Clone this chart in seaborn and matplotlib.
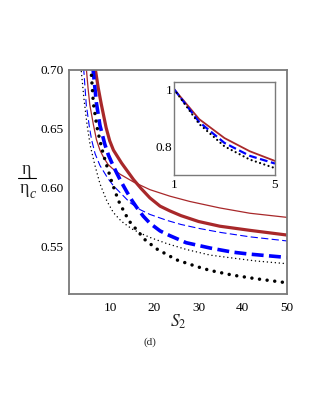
import matplotlib
matplotlib.use("Agg")
import matplotlib.pyplot as plt
import seaborn as sns
import pandas as pd
from matplotlib.lines import Line2D

# ---------------- data ----------------
# main panel: efficiency ratio eta/eta_c versus S2
s_red_thin = [4.6, 5.0, 5.4, 6.2, 6.9, 7.7, 8.5, 9.5, 10.5, 12.3, 15.3, 19.0, 23.5, 28.0, 34.8, 41.6, 50.0]
y_red_thin = [0.702, 0.685, 0.6707, 0.654, 0.641, 0.632, 0.626, 0.620, 0.6165, 0.6115, 0.605, 0.5985, 0.593, 0.5885, 0.583, 0.5785, 0.575]

s_red_thick = [6.6, 7.3, 8.0, 9.1, 9.9, 10.75, 12.6, 15.3, 17.0, 19.0, 21.3, 23.5, 26.0, 30.0, 34.8, 41.6, 50.0]
y_red_thick = [0.702, 0.685, 0.671, 0.651, 0.640, 0.632, 0.621, 0.607, 0.5995, 0.5915, 0.5845, 0.5805, 0.5765, 0.5715, 0.5675, 0.564, 0.560]

s_blue_thin = [4.0, 4.6, 5.3, 5.8, 6.6, 7.7, 9.5, 10.75, 14.5, 16.8, 19.0, 22.8, 26.0, 30.0, 35.0, 41.6, 50.0]
y_blue_thin = [0.702, 0.6707, 0.652, 0.641, 0.629, 0.619, 0.608, 0.6018, 0.5875, 0.5815, 0.5775, 0.5725, 0.569, 0.5657, 0.5622, 0.5585, 0.555]

s_blue_thick = [6.1, 6.9, 7.7, 8.8, 9.6, 10.3, 11.5, 12.6, 13.8, 15.0, 16.0, 17.5, 19.0, 21.3, 23.5, 27.2, 32.6, 37.7, 41.6, 50.0]
y_blue_thick = [0.702, 0.672, 0.653, 0.637, 0.628, 0.622, 0.6125, 0.6045, 0.5965, 0.589, 0.5835, 0.576, 0.570, 0.5635, 0.5595, 0.5535, 0.549, 0.5455, 0.5438, 0.541]

s_black_thin = [3.4, 4.1, 4.8, 5.5, 6.5, 7.7, 9.25, 10.75, 12.6, 15.0, 17.5, 19.0, 22.8, 27.3, 32.6, 37.7, 43.0, 50.0]
y_black_thin = [0.702, 0.675, 0.653, 0.636, 0.620, 0.6035, 0.589, 0.579, 0.5715, 0.565, 0.5605, 0.558, 0.5528, 0.5477, 0.543, 0.5405, 0.538, 0.5357]

s_black_thick = [5.65, 6.2, 7.0, 7.7, 8.5, 10.4, 11.9, 13.4, 14.5, 17.9, 20.5, 25.0, 29.5, 32.6, 37.7, 42.9, 50.0]
y_black_thick = [0.702, 0.672, 0.652, 0.640, 0.628, 0.6047, 0.589, 0.578, 0.571, 0.556, 0.5483, 0.539, 0.5334, 0.530, 0.526, 0.523, 0.5195]

# inset panel
s_inset = [1, 2, 3, 4, 5]
y_inset_red = [1.0, 0.895, 0.829, 0.783, 0.749]
y_inset_blue = [1.0, 0.885, 0.812, 0.767, 0.740]
y_inset_black = [1.0, 0.878, 0.800, 0.754, 0.724]

x_ticks = [10, 20, 30, 40, 50]
y_ticks = [0.55, 0.60, 0.65, 0.70]
y_tick_labels = ["0.55", "0.60", "0.65", "0.70"]

# ---------------- style ----------------
sns.set_theme(style="white")
plt.rcParams["font.family"] = ["Liberation Serif", "DejaVu Serif"]
plt.rcParams["mathtext.fontset"] = "stix"

RED = "#a8282a"
BLUE = "#0000ff"
BLACK = "#000000"
FRAME = "#7a7a7a"

W, H = 316, 409
fig = plt.figure(figsize=(W / 100, H / 100), dpi=100)
fig.patch.set_facecolor("white")

def fx(px):
    return px / W

def fy(py):
    return 1 - py / H

ax = fig.add_axes([fx(69), fy(294), fx(287) - fx(69), fy(70) - fy(294)])

def draw(a, s, y, **kw):
    df = pd.DataFrame({"S2": s, "ratio": y})
    sns.lineplot(data=df, x="S2", y="ratio", ax=a, sort=False, estimator=None, **kw)

draw(ax, s_red_thin, y_red_thin, color=RED, lw=0.9)
draw(ax, s_red_thick, y_red_thick, color=RED, lw=2.3)
draw(ax, s_blue_thin, y_blue_thin, color=BLUE, lw=0.8, linestyle=(0, (6.5, 3.0)))
draw(ax, s_blue_thick, y_blue_thick, color=BLUE, lw=2.6, linestyle=(0, (3.3, 1.5)))
draw(ax, s_black_thin, y_black_thin, color=BLACK, lw=1.1, linestyle=(0, (0.01, 2.6)),
     dash_capstyle="round")
draw(ax, s_black_thick, y_black_thick, color=BLACK, lw=2.5, linestyle=(0, (0.01, 2.2)),
     dash_capstyle="round")

ax.set_xlim(0.7, 50)
ax.set_ylim(0.51, 0.70)
ax.set_xticks(x_ticks)
ax.set_xticklabels([str(t) for t in x_ticks])
ax.set_yticks(y_ticks)
ax.set_yticklabels(y_tick_labels)
ax.tick_params(length=0, labelsize=9.5, colors="black")
ax.tick_params(axis="x", pad=6)
ax.tick_params(axis="y", pad=4)
ax.set_xlabel("")
ax.set_ylabel("")
for sp in ax.spines.values():
    sp.set_color(FRAME)
    sp.set_linewidth(1.3)

# ---------------- inset ----------------
axi = fig.add_axes([fx(174), fy(175), fx(275) - fx(174), fy(82) - fy(175)])
axi.set_facecolor("white")
draw(axi, s_inset, y_inset_red, color=RED, lw=1.3)
draw(axi, s_inset, y_inset_blue, color=BLUE, lw=1.6, linestyle=(0, (3.5, 1.6)))
draw(axi, s_inset, y_inset_black, color=BLACK, lw=1.6, linestyle=(0, (0.01, 2.0)),
     dash_capstyle="round")
axi.set_xlim(1, 5)
axi.set_ylim(0.70, 1.025)
axi.set_xticks([1, 5])
axi.set_xticklabels(["1", "5"])
axi.set_yticks([0.8, 1.0])
axi.set_yticklabels(["0.8", "1"])
axi.tick_params(length=0, labelsize=9.5, colors="black")
axi.tick_params(axis="x", pad=3)
axi.tick_params(axis="y", pad=1)
axi.set_xlabel("")
axi.set_ylabel("")
for sp in axi.spines.values():
    sp.set_color(FRAME)
    sp.set_linewidth(1.0)

# ---------------- labels ----------------
fig.text(fx(26), fy(170), "\u03b7", ha="center", va="center", fontsize=13)
fig.add_artist(Line2D([fx(18), fx(36)], [fy(178), fy(178)], color="black", lw=0.8,
                      transform=fig.transFigure))
fig.text(fx(24), fy(189), "\u03b7", ha="center", va="center", fontsize=13)
fig.text(fx(33), fy(195), "c", ha="center", va="center", fontsize=10, style="italic")

fig.text(fx(178), fy(322), r"$S_2$", ha="center", va="center", fontsize=12.5)
fig.text(fx(150), fy(342), "(d)", ha="center", va="center", fontsize=8)

fig.savefig("out.png", dpi=100)
